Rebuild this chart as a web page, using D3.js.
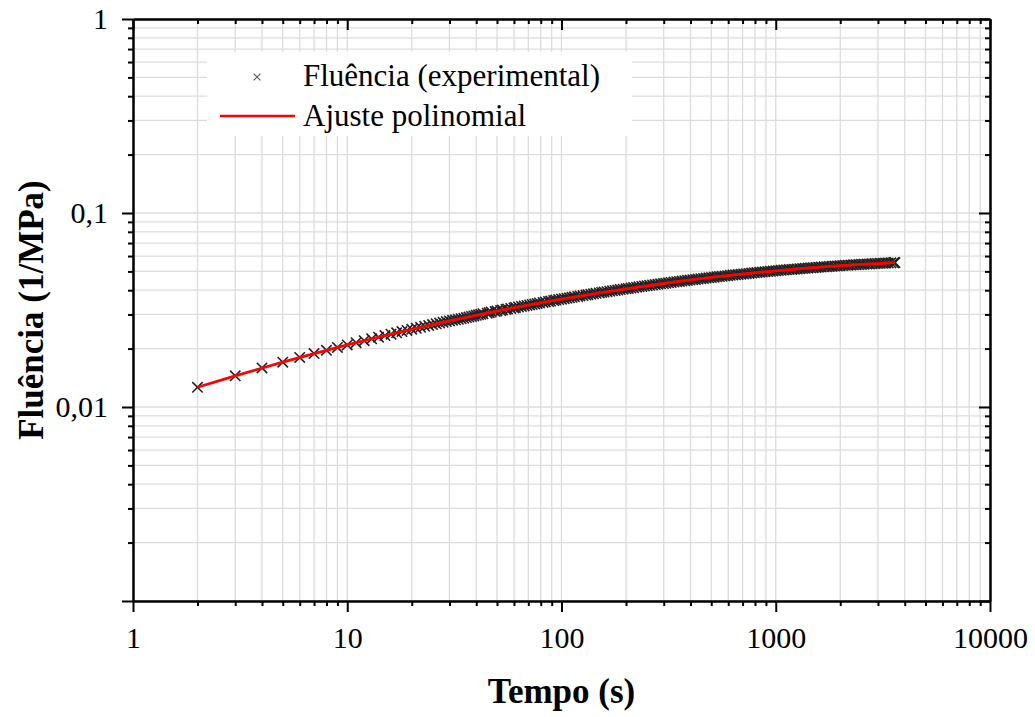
<!DOCTYPE html>
<html>
<head>
<meta charset="utf-8">
<script src="https://cdn.jsdelivr.net/npm/d3@7"></script>
<style>
  body { margin: 0; background: #fff; }
  text { font-family: "Liberation Serif", "Times New Roman", serif; fill: #000; }
</style>
</head>
<body>
<svg id="chart" width="1035" height="717"></svg>
<script>
/* dados experimentais: tempo (s) e fluencia (1/MPa) */
var expTime = [
  2,3,4,5,6,7,8,9,10,11,
  12,13,14,15,16,17,18,19,20,21,
  22,23,24,25,26,27,28,29,30,31,
  32,33,34,35,36,37,38,39,40,41,
  42,43,45,46,47,49,50,52,53,55,
  56,58,60,61,63,65,67,69,71,73,
  75,77,79,82,84,87,89,92,94,97,
  100,103,106,109,112,115,119,122,126,130,
  133,137,141,145,150,154,158,163,168,173,
  178,183,188,194,200,205,211,217,224,230,
  237,244,251,258,266,274,282,290,299,307,
  316,325,335,345,355,365,376,387,398,410,
  422,434,447,460,473,487,501,516,531,546,
  562,579,596,613,631,649,668,688,708,729,
  750,772,794,817,841,866,891,917,944,972,
  1000,1029,1059,1090,1122,1155,1189,1223,1259,1296,
  1334,1373,1413,1454,1496,1540,1585,1631,1679,1728,
  1778,1830,1884,1939,1995,2053,2113,2175,2239,2304,
  2371,2440,2512,2585,2661,2738,2818,2900,2985,3072,
  3162,3255,3350,3448,3548,3574,3600];
var expCreep = [
  0.01264,0.01448,0.01589,0.01703,0.01800,0.01885,0.01960,0.02028,0.02089,0.02146,
  0.02198,0.02246,0.02291,0.02334,0.02374,0.02412,0.02448,0.02482,0.02515,0.02546,
  0.02576,0.02605,0.02632,0.02659,0.02684,0.02709,0.02733,0.02756,0.02778,0.02800,
  0.02814,0.02833,0.02852,0.02871,0.02890,0.02910,0.02929,0.02949,0.02968,0.02987,
  0.03006,0.03026,0.03045,0.03065,0.03084,0.03104,0.03124,0.03144,0.03163,0.03183,
  0.03202,0.03222,0.03242,0.03262,0.03281,0.03301,0.03320,0.03340,0.03360,0.03380,
  0.03400,0.03420,0.03439,0.03459,0.03479,0.03499,0.03518,0.03538,0.03558,0.03578,
  0.03598,0.03618,0.03637,0.03657,0.03676,0.03696,0.03716,0.03736,0.03755,0.03775,
  0.03795,0.03815,0.03834,0.03854,0.03873,0.03893,0.03912,0.03932,0.03951,0.03971,
  0.03990,0.04009,0.04028,0.04048,0.04067,0.04086,0.04105,0.04124,0.04143,0.04162,
  0.04181,0.04200,0.04219,0.04238,0.04256,0.04275,0.04294,0.04313,0.04331,0.04350,
  0.04368,0.04386,0.04404,0.04423,0.04441,0.04459,0.04477,0.04495,0.04512,0.04530,
  0.04548,0.04566,0.04583,0.04601,0.04618,0.04635,0.04652,0.04669,0.04686,0.04703,
  0.04720,0.04737,0.04753,0.04770,0.04786,0.04803,0.04819,0.04835,0.04851,0.04867,
  0.04883,0.04899,0.04914,0.04930,0.04945,0.04961,0.04976,0.04991,0.05006,0.05021,
  0.05035,0.05050,0.05064,0.05079,0.05093,0.05107,0.05121,0.05135,0.05148,0.05162,
  0.05175,0.05189,0.05202,0.05215,0.05228,0.05241,0.05253,0.05266,0.05278,0.05290,
  0.05302,0.05314,0.05326,0.05338,0.05349,0.05360,0.05371,0.05382,0.05393,0.05404,
  0.05414,0.05425,0.05435,0.05445,0.05455,0.05465,0.05474,0.05484,0.05493,0.05502,
  0.05511,0.05520,0.05529,0.05537,0.05545,0.05548,0.05550];

/* ajuste polinomial */
var fitTime = [2,3,5,7,10,15,20,30,50,100,200,300,500,1000,2000,3600];
var fitCreep = [0.01264,0.01448,0.01703,0.01885,0.02089,0.02334,0.02515,0.02778,0.03124,0.03598,0.04067,0.04331,0.04652,0.05035,0.05349,0.05550];

/* eixos */
var xTickValues = [1,10,100,1000,10000];
var xTickLabels = ["1","10","100","1000","10000"];
var yTickValues = [0.001,0.01,0.1,1];
var yTickLabels = ["","0,01","0,1","1"];

var seriesNames = ["Fluência (experimental)", "Ajuste polinomial"];

var svg = d3.select("#chart");
var pLeft = 133, pRight = 990, pTop = 19, pBottom = 601;

var x = d3.scaleLog().domain([1, 10000]).range([pLeft, pRight]);
var y = d3.scaleLog().domain([0.001, 1]).range([pBottom, pTop]);

// minor ticks 2..9 em cada decada
var xMinor = [], yMinor = [];
xTickValues.slice(0, -1).forEach(function(d) { for (var k = 2; k < 10; k++) xMinor.push(d * k); });
yTickValues.slice(0, -1).forEach(function(d) { for (var k = 2; k < 10; k++) yMinor.push(d * k); });

// grade
var grid = svg.append("g").attr("stroke", "#dcdcdc").attr("stroke-width", 1.3);
grid.selectAll("line.gx").data(xTickValues.concat(xMinor)).join("line").attr("class", "gx")
  .attr("x1", function(d) { return x(d); }).attr("x2", function(d) { return x(d); })
  .attr("y1", pTop).attr("y2", pBottom);
grid.selectAll("line.gy").data(yTickValues.concat(yMinor)).join("line").attr("class", "gy")
  .attr("y1", function(d) { return y(d); }).attr("y2", function(d) { return y(d); })
  .attr("x1", pLeft).attr("x2", pRight);

// pontos experimentais
var cross = d3.symbol().type(d3.symbolTimes).size(72);
svg.append("g").selectAll("path").data(expTime).join("path")
  .attr("d", cross)
  .attr("transform", function(d, i) { return "translate(" + x(d) + "," + y(expCreep[i]) + ")"; })
  .attr("fill", "none").attr("stroke", "#222").attr("stroke-width", 1.6);

// linha do ajuste
var fitLine = d3.line()
  .x(function(d, i) { return x(fitTime[i]); })
  .y(function(d, i) { return y(fitCreep[i]); })
  .curve(d3.curveMonotoneX);
svg.append("path").datum(fitTime)
  .attr("d", fitLine)
  .attr("fill", "none").attr("stroke", "#ff0000").attr("stroke-width", 2.8);

// legenda
var leg = svg.append("g");
leg.append("rect").attr("x", 207).attr("y", 52).attr("width", 425).attr("height", 84).attr("fill", "#fff");
leg.append("path").attr("d", d3.symbol().type(d3.symbolTimes).size(32))
  .attr("transform", "translate(257,77)")
  .attr("fill", "none").attr("stroke", "#555").attr("stroke-width", 1.1);
leg.append("line").attr("x1", 220).attr("x2", 295).attr("y1", 116).attr("y2", 116)
  .attr("stroke", "#ff0000").attr("stroke-width", 2.6);
leg.selectAll("text").data(seriesNames).join("text")
  .attr("x", 303).attr("y", function(d, i) { return 86 + i * 40; })
  .attr("font-size", 31).text(function(d) { return d; });

// moldura e ticks
function styleAxis(g) {
  g.selectAll("path.domain").attr("stroke", "#000").attr("stroke-width", 2);
  g.selectAll(".tick line").attr("stroke", "#000").attr("stroke-width", 2);
  g.selectAll("text").attr("font-family", "'Liberation Serif', 'Times New Roman', serif")
    .attr("font-size", 30).attr("fill", "#000");
}

svg.append("g").attr("transform", "translate(0," + pBottom + ")")
  .call(d3.axisBottom(x).tickValues(xMinor).tickSize(5).tickSizeOuter(0).tickFormat(""))
  .call(styleAxis);
svg.append("g").attr("transform", "translate(0," + pBottom + ")")
  .call(d3.axisBottom(x).tickValues(xTickValues).tickSize(11).tickSizeOuter(0).tickPadding(15)
    .tickFormat(function(d, i) { return xTickLabels[i]; }))
  .call(styleAxis);

svg.append("g").attr("transform", "translate(" + pLeft + ",0)")
  .call(d3.axisLeft(y).tickValues(yMinor).tickSize(5).tickSizeOuter(0).tickFormat(""))
  .call(styleAxis);
svg.append("g").attr("transform", "translate(" + pLeft + ",0)")
  .call(d3.axisLeft(y).tickValues(yTickValues).tickSize(11).tickSizeOuter(0).tickPadding(14)
    .tickFormat(function(d, i) { return yTickLabels[i]; }))
  .call(styleAxis);

svg.append("g").attr("transform", "translate(0," + pTop + ")")
  .call(d3.axisTop(x).tickValues(xMinor).tickSize(-5).tickSizeOuter(0).tickFormat(""))
  .call(styleAxis);
svg.append("g").attr("transform", "translate(0," + pTop + ")")
  .call(d3.axisTop(x).tickValues(xTickValues).tickSize(-11).tickSizeOuter(0).tickFormat(""))
  .call(styleAxis);

svg.append("g").attr("transform", "translate(" + pRight + ",0)")
  .call(d3.axisRight(y).tickValues(yMinor).tickSize(-5).tickSizeOuter(0).tickFormat(""))
  .call(styleAxis);
svg.append("g").attr("transform", "translate(" + pRight + ",0)")
  .call(d3.axisRight(y).tickValues(yTickValues).tickSize(-11).tickSizeOuter(0).tickFormat(""))
  .call(styleAxis);

// titulos
svg.append("text").attr("x", (pLeft + pRight) / 2).attr("y", 703)
  .attr("text-anchor", "middle").attr("font-size", 35).attr("font-weight", "bold")
  .text("Tempo (s)");
svg.append("text").attr("transform", "translate(43," + (pTop + pBottom) / 2 + ") rotate(-90)")
  .attr("text-anchor", "middle").attr("font-size", 35).attr("font-weight", "bold")
  .text("Fluência (1/MPa)");
</script>
</body>
</html>
